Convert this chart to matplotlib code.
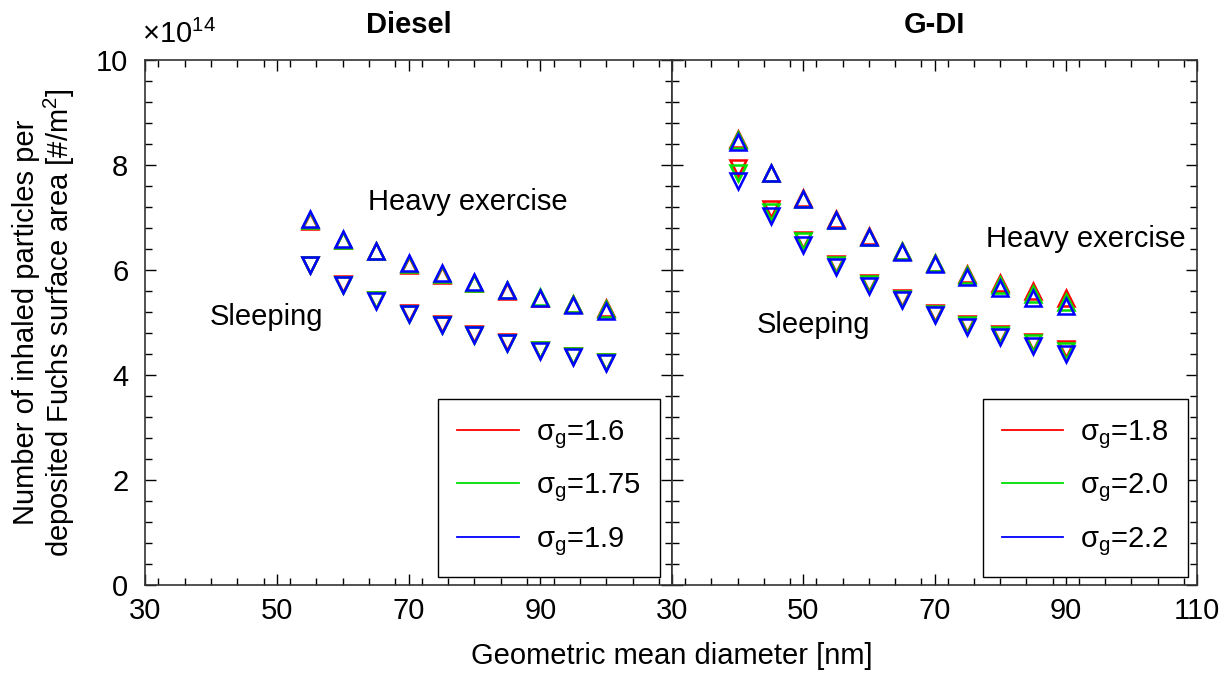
import numpy as np
import matplotlib
matplotlib.use('Agg')
import matplotlib.pyplot as plt
from matplotlib.ticker import MultipleLocator, FixedLocator

plt.rcParams['font.family'] = ['Liberation Sans', 'DejaVu Sans']
plt.rcParams['mathtext.default'] = 'regular'

# Diesel data (x10^14 #/m^2)
diesel_d = [55, 60, 65, 70, 75, 80, 85, 90, 95, 100]
diesel_heavy = {
    '1.6':  [6.93, 6.57, 6.36, 6.10, 5.91, 5.75, 5.60, 5.47, 5.36, 5.28],
    '1.75': [6.96, 6.57, 6.37, 6.12, 5.93, 5.76, 5.61, 5.48, 5.36, 5.26],
    '1.9':  [6.97, 6.60, 6.37, 6.14, 5.94, 5.77, 5.61, 5.46, 5.33, 5.22],
}
diesel_sleep = {
    '1.6':  [6.10, 5.73, 5.43, 5.18, 4.97, 4.78, 4.62, 4.47, 4.36, 4.25],
    '1.75': [6.10, 5.72, 5.42, 5.17, 4.96, 4.77, 4.61, 4.48, 4.37, 4.25],
    '1.9':  [6.10, 5.71, 5.41, 5.16, 4.95, 4.76, 4.60, 4.46, 4.34, 4.22],
}

# G-DI data
gdi_d = [40, 45, 50, 55, 60, 65, 70, 75, 80, 85, 90]
gdi_heavy = {
    '1.8': [8.50, 7.85, 7.37, 6.97, 6.64, 6.37, 6.14, 5.93, 5.75, 5.60, 5.47],
    '2.0': [8.48, 7.85, 7.36, 6.96, 6.63, 6.36, 6.13, 5.91, 5.72, 5.55, 5.40],
    '2.2': [8.44, 7.84, 7.35, 6.95, 6.62, 6.35, 6.11, 5.86, 5.65, 5.47, 5.31],
}
gdi_sleep = {
    '1.8': [7.95, 7.16, 6.58, 6.11, 5.75, 5.46, 5.18, 4.97, 4.79, 4.63, 4.50],
    '2.0': [7.84, 7.11, 6.55, 6.09, 5.73, 5.44, 5.16, 4.95, 4.76, 4.60, 4.46],
    '2.2': [7.70, 7.02, 6.48, 6.05, 5.70, 5.42, 5.14, 4.92, 4.72, 4.55, 4.40],
}

colors = ['#ff0000', '#00e000', '#0000ff']
fs = 21

fig = plt.figure(figsize=(12.26, 6.73), dpi=100)
ax1 = fig.add_axes([0.1183, 0.1308, 0.4299, 0.78])
ax2 = fig.add_axes([0.5482, 0.1308, 0.4282, 0.78], sharey=ax1)


def draw_panel(ax, d, heavy, sleep):
    for (sg, col) in zip(heavy.keys(), colors):
        ax.plot(d, heavy[sg], linestyle='none', marker='^', ms=11, mew=1.8,
                mfc='none', mec=col)
        ax.plot(d, sleep[sg], linestyle='none', marker='v', ms=11, mew=1.8,
                mfc='none', mec=col)
        ax.plot([], [], color=col, lw=1.3, label=r'$\sigma_g$=' + sg)


draw_panel(ax1, diesel_d, diesel_heavy, diesel_sleep)
draw_panel(ax2, gdi_d, gdi_heavy, gdi_sleep)

anchors = {ax1: (0.977, 0.015), ax2: (0.983, 0.015)}
for ax in (ax1, ax2):
    ax.set_xlim(30, 110)
    ax.set_ylim(0, 10)
    ax.xaxis.set_major_locator(FixedLocator([30, 50, 70, 90, 110]))
    ax.xaxis.set_minor_locator(MultipleLocator(4))
    ax.yaxis.set_major_locator(FixedLocator([0, 2, 4, 6, 8, 10]))
    ax.yaxis.set_minor_locator(MultipleLocator(0.4))
    ax.tick_params(which='both', direction='in', top=True, right=True,
                   labelsize=fs, colors='black')
    ax.tick_params(which='major', length=8, width=1.0)
    ax.tick_params(which='minor', length=5, width=1.0)
    ax.tick_params(axis='x', which='major', pad=9)
    ax.tick_params(axis='y', which='major', pad=12)
    for s in ax.spines.values():
        s.set_color('#333333')
        s.set_linewidth(1.2)
    leg = ax.legend(loc='lower right', bbox_to_anchor=anchors[ax], fontsize=fs,
                    frameon=True, fancybox=False, handlelength=2.1,
                    labelspacing=0.72, borderpad=0.65, handletextpad=0.6,
                    borderaxespad=0, framealpha=1)
    leg.get_frame().set_edgecolor('black')
    leg.get_frame().set_linewidth(1.0)

ax1.set_xticklabels(['30', '50', '70', '90', ''])
plt.setp(ax2.get_yticklabels(), visible=False)

ax1.text(-0.005, 1.032, r'$\times 10^{14}$', transform=ax1.transAxes, fontsize=fs,
         ha='left', va='baseline')
ax1.text(0.5, 1.04, 'Diesel', transform=ax1.transAxes, fontsize=fs,
         fontweight='bold', ha='center', va='bottom')
ax2.text(0.5, 1.04, 'G-DI', transform=ax2.transAxes, fontsize=fs,
         fontweight='bold', ha='center', va='bottom')

ax1.text(79, 7.3, 'Heavy exercise', fontsize=fs, ha='center', va='center')
ax1.text(48.5, 5.1, 'Sleeping', fontsize=fs, ha='center', va='center')
ax2.text(93, 6.6, 'Heavy exercise', fontsize=fs, ha='center', va='center')
ax2.text(51.5, 4.95, 'Sleeping', fontsize=fs, ha='center', va='center')

ax1.set_ylabel('Number of inhaled particles per\ndeposited Fuchs surface area [#/m$^2$]',
               fontsize=fs, labelpad=14, linespacing=1.05)
fig.text(0.548, 0.005, 'Geometric mean diameter [nm]', fontsize=fs,
         ha='center', va='bottom')

fig.savefig('out.png', dpi=100)
